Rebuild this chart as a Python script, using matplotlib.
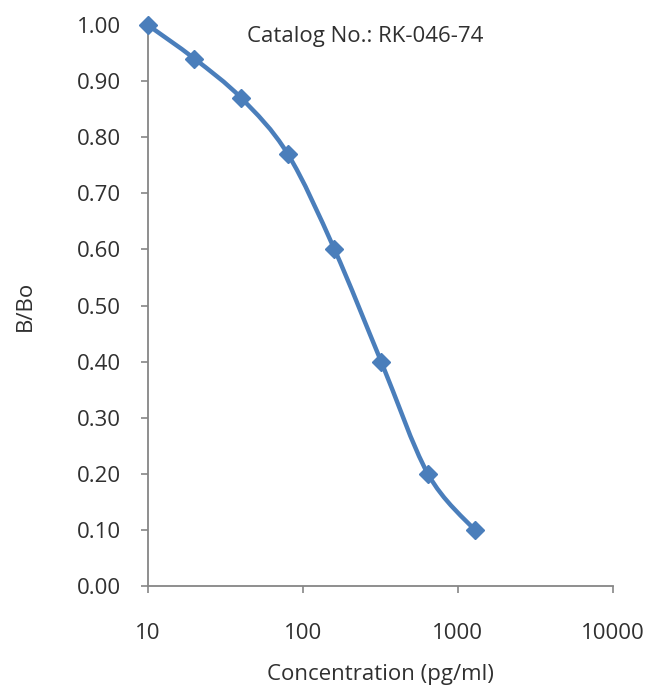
import numpy as np
import matplotlib
matplotlib.use('Agg')
from matplotlib import pyplot as plt
from matplotlib.path import Path
from matplotlib.patches import PathPatch

# standard curve values
conc = [10, 20, 40, 80, 160, 320, 640, 1280]
ratio = [1.00, 0.94, 0.87, 0.77, 0.60, 0.40, 0.20, 0.10]
x_ticks = [10, 100, 1000, 10000]
x_tick_labels = ['10', '100', '1000', '10000']
y_ticks = [0.0, 0.1, 0.2, 0.3, 0.4, 0.5, 0.6, 0.7, 0.8, 0.9, 1.0]

BLUE = '#4a7ebb'
GREY = '#868686'
TEXT = '#303030'
FS = 16


def smooth_path(xs, ys) -> Path:
    """Excel-like smoothed line: cubic bezier through the points, built in log-x space."""
    lx = np.log10(np.asarray(xs, dtype=float))
    y = np.asarray(ys, dtype=float)
    n = len(lx)
    verts = [(xs[0], ys[0])]
    codes = [Path.MOVETO]
    for i in range(n - 1):
        p0 = max(i - 1, 0)
        p3 = min(i + 2, n - 1)
        c1 = (lx[i] + (lx[i + 1] - lx[p0]) / 6, y[i] + (y[i + 1] - y[p0]) / 6)
        c2 = (lx[i + 1] - (lx[p3] - lx[i]) / 6, y[i + 1] - (y[p3] - y[i]) / 6)
        verts += [(10 ** c1[0], c1[1]), (10 ** c2[0], c2[1]), (xs[i + 1], ys[i + 1])]
        codes += [Path.CURVE4] * 3
    return Path(verts, codes)


plt.rcParams['font.family'] = ['Open Sans', 'DejaVu Sans']
fig = plt.figure(figsize=(6.48, 6.89), dpi=100)
ax = fig.add_axes([0.228, 0.1495, 0.718, 0.8142])

ax.set_xscale('log')
ax.set_xlim(10, 10000)
ax.set_ylim(0, 1.0)

ax.add_patch(PathPatch(smooth_path(conc, ratio), facecolor='none', edgecolor=BLUE,
                       lw=3.2, clip_on=False, zorder=3))
ax.plot(conc, ratio, linestyle='none', marker='D', ms=9, color=BLUE,
        clip_on=False, zorder=4)

ax.set_xticks(x_ticks)
ax.set_xticklabels(x_tick_labels)
ax.xaxis.set_minor_locator(plt.NullLocator())
ax.set_yticks(y_ticks)
ax.set_yticklabels([f'{v:.2f}' for v in y_ticks])

for side in ['top', 'right']:
    ax.spines[side].set_visible(False)
for side in ['left', 'bottom']:
    ax.spines[side].set_color(GREY)
    ax.spines[side].set_linewidth(1.3)

ax.tick_params(axis='y', direction='out', length=5, width=1.2, color=GREY,
               labelsize=FS, labelcolor=TEXT, pad=14)
ax.tick_params(axis='x', direction='out', length=5, width=1.2, color=GREY,
               labelsize=FS, labelcolor=TEXT, pad=22)

ax.set_xlabel('Concentration (pg/ml)', fontsize=FS, color=TEXT, labelpad=14)
ax.set_ylabel('B/Bo', fontsize=FS, color=TEXT, labelpad=30)

ax.text(0.213, 0.970, 'Catalog No.: RK-046-74', transform=ax.transAxes,
        fontsize=FS, color=TEXT, va='baseline', ha='left')

fig.savefig('out.png', dpi=100)
